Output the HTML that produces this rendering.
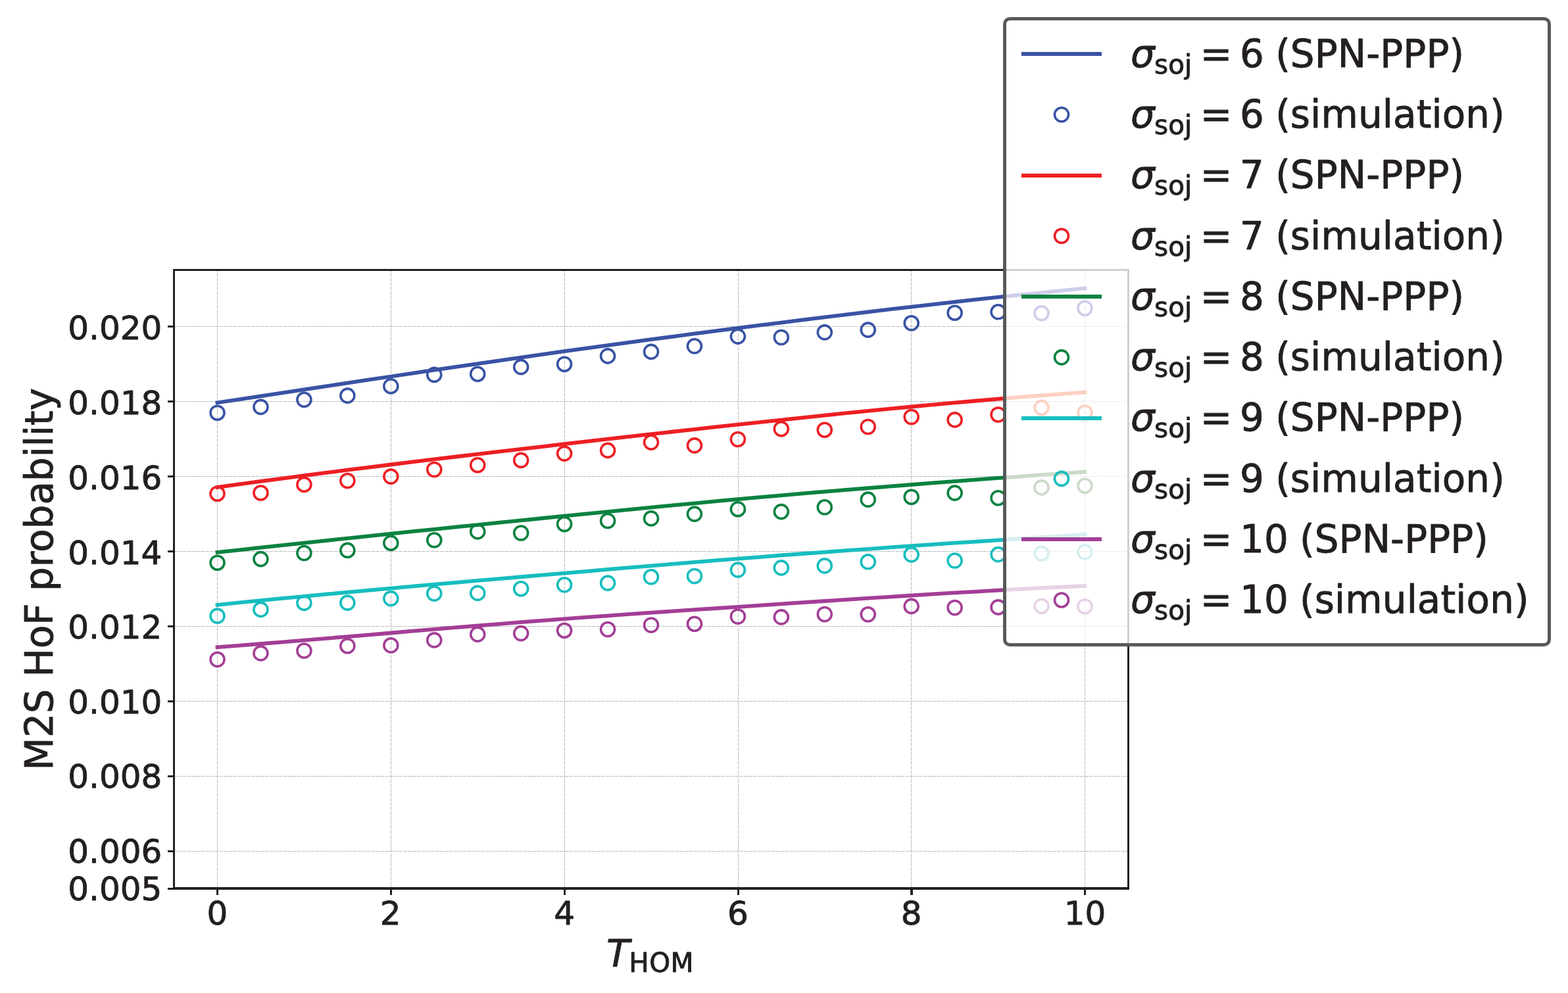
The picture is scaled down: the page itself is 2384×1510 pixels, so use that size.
<!DOCTYPE html>
<html lang="en"><head><meta charset="utf-8"><title>M2S HoF probability vs T_HOM</title>
<style>html,body{margin:0;padding:0;background:#fff}svg{display:block}</style></head>
<body>
<svg width="2384" height="1510" viewBox="0 0 2384 1510" font-family="'DejaVu Sans','Liberation Sans',sans-serif" fill="#231f20">
<style>text{stroke:#231f20;stroke-width:0.9px;stroke-linejoin:round}</style>
<rect width="2384" height="1510" fill="#fff"/>
<g stroke="#bbbdbf" stroke-width="1.0" stroke-dasharray="5.85 1.15" fill="none">
<path d="M330.5 410.5V1351" stroke-dashoffset="2.3"/>
<path d="M594.5 410.5V1351" stroke-dashoffset="2.3"/>
<path d="M858.5 410.5V1351" stroke-dashoffset="2.3"/>
<path d="M1122.5 410.5V1351" stroke-dashoffset="2.3"/>
<path d="M1385.5 410.5V1351" stroke-dashoffset="2.3"/>
<path d="M1649.5 410.5V1351" stroke-dashoffset="2.3"/>
<path d="M264.5 1351.5H1715.5" stroke-dashoffset="1.5"/>
<path d="M264.5 1294.5H1715.5" stroke-dashoffset="1.5"/>
<path d="M264.5 1180.5H1715.5" stroke-dashoffset="1.5"/>
<path d="M264.5 1066.5H1715.5" stroke-dashoffset="1.5"/>
<path d="M264.5 952.5H1715.5" stroke-dashoffset="1.5"/>
<path d="M264.5 838.5H1715.5" stroke-dashoffset="1.5"/>
<path d="M264.5 724.5H1715.5" stroke-dashoffset="1.5"/>
<path d="M264.5 610.5H1715.5" stroke-dashoffset="1.5"/>
<path d="M264.5 496.5H1715.5" stroke-dashoffset="1.5"/>
</g>
<path d="M330.5 612.25L363.48 607.27L396.45 602.29L429.43 597.3L462.4 592.32L495.38 587.35L528.35 582.38L561.33 577.43L594.3 572.5L627.28 567.59L660.25 562.71L693.23 557.86L726.2 553.04L759.17 548.26L792.15 543.53L825.12 538.84L858.1 534.2L891.08 529.62L924.05 525.08L957.02 520.6L990 516.17L1022.98 511.79L1055.95 507.45L1088.93 503.15L1121.9 498.9L1154.88 494.69L1187.85 490.52L1220.83 486.4L1253.8 482.33L1286.78 478.31L1319.75 474.34L1352.72 470.44L1385.7 466.6L1418.67 462.82L1451.65 459.12L1484.62 455.48L1517.6 451.92L1550.58 448.44L1583.55 445.04L1616.53 441.73L1649.5 438.5" fill="none" stroke="#3953a4" stroke-width="5.8" stroke-linecap="square" stroke-linejoin="round"/>
<g fill="none" stroke="#3953a4" stroke-width="3.6">
<circle cx="330.5" cy="627.7" r="10.5"/>
<circle cx="396.45" cy="618.9" r="10.5"/>
<circle cx="462.4" cy="607.8" r="10.5"/>
<circle cx="528.35" cy="601.6" r="10.5"/>
<circle cx="594.3" cy="587.2" r="10.5"/>
<circle cx="660.25" cy="569.9" r="10.5"/>
<circle cx="726.2" cy="568.7" r="10.5"/>
<circle cx="792.15" cy="558.1" r="10.5"/>
<circle cx="858.1" cy="553.7" r="10.5"/>
<circle cx="924.05" cy="541.4" r="10.5"/>
<circle cx="990" cy="534.9" r="10.5"/>
<circle cx="1055.95" cy="526.3" r="10.5"/>
<circle cx="1121.9" cy="511.6" r="10.5"/>
<circle cx="1187.85" cy="513" r="10.5"/>
<circle cx="1253.8" cy="505.4" r="10.5"/>
<circle cx="1319.75" cy="501.6" r="10.5"/>
<circle cx="1385.7" cy="491.3" r="10.5"/>
<circle cx="1451.65" cy="475.7" r="10.5"/>
<circle cx="1517.6" cy="474.3" r="10.5"/>
<circle cx="1583.55" cy="476.3" r="10.5"/>
<circle cx="1649.5" cy="468.7" r="10.5"/>
</g>
<path d="M330.5 740.9L363.48 736.37L396.45 731.91L429.43 727.52L462.4 723.2L495.38 718.94L528.35 714.74L561.33 710.59L594.3 706.5L627.28 702.46L660.25 698.46L693.23 694.5L726.2 690.58L759.17 686.69L792.15 682.84L825.12 679.01L858.1 675.2L891.08 671.41L924.05 667.65L957.02 663.91L990 660.19L1022.98 656.5L1055.95 652.83L1088.93 649.2L1121.9 645.6L1154.88 642.03L1187.85 638.51L1220.83 635.03L1253.8 631.6L1286.78 628.22L1319.75 624.91L1352.72 621.67L1385.7 618.5L1418.67 615.41L1451.65 612.41L1484.62 609.49L1517.6 606.68L1550.58 603.97L1583.55 601.36L1616.53 598.87L1649.5 596.5" fill="none" stroke="#ed1f24" stroke-width="5.8" stroke-linecap="square" stroke-linejoin="round"/>
<g fill="none" stroke="#ed1f24" stroke-width="3.6">
<circle cx="330.5" cy="750.7" r="10.5"/>
<circle cx="396.45" cy="749.5" r="10.5"/>
<circle cx="462.4" cy="736.9" r="10.5"/>
<circle cx="528.35" cy="731" r="10.5"/>
<circle cx="594.3" cy="724.6" r="10.5"/>
<circle cx="660.25" cy="714" r="10.5"/>
<circle cx="726.2" cy="707.2" r="10.5"/>
<circle cx="792.15" cy="699.9" r="10.5"/>
<circle cx="858.1" cy="689.6" r="10.5"/>
<circle cx="924.05" cy="684.9" r="10.5"/>
<circle cx="990" cy="672.6" r="10.5"/>
<circle cx="1055.95" cy="677.4" r="10.5"/>
<circle cx="1121.9" cy="668" r="10.5"/>
<circle cx="1187.85" cy="652.2" r="10.5"/>
<circle cx="1253.8" cy="653.7" r="10.5"/>
<circle cx="1319.75" cy="649" r="10.5"/>
<circle cx="1385.7" cy="634" r="10.5"/>
<circle cx="1451.65" cy="638.4" r="10.5"/>
<circle cx="1517.6" cy="630.5" r="10.5"/>
<circle cx="1583.55" cy="619.9" r="10.5"/>
<circle cx="1649.5" cy="627.5" r="10.5"/>
</g>
<path d="M330.5 839.9L363.48 836.26L396.45 832.66L429.43 829.08L462.4 825.53L495.38 822.01L528.35 818.52L561.33 815.05L594.3 811.6L627.28 808.17L660.25 804.77L693.23 801.38L726.2 798.02L759.17 794.67L792.15 791.33L825.12 788.01L858.1 784.7L891.08 781.4L924.05 778.13L957.02 774.87L990 771.65L1022.98 768.46L1055.95 765.32L1088.93 762.23L1121.9 759.2L1154.88 756.23L1187.85 753.32L1220.83 750.47L1253.8 747.68L1286.78 744.94L1319.75 742.24L1352.72 739.6L1385.7 737L1418.67 734.44L1451.65 731.92L1484.62 729.44L1517.6 726.98L1550.58 724.56L1583.55 722.17L1616.53 719.8L1649.5 717.45" fill="none" stroke="#0a8240" stroke-width="5.8" stroke-linecap="square" stroke-linejoin="round"/>
<g fill="none" stroke="#0a8240" stroke-width="3.6">
<circle cx="330.5" cy="855.7" r="10.5"/>
<circle cx="396.45" cy="850.1" r="10.5"/>
<circle cx="462.4" cy="841" r="10.5"/>
<circle cx="528.35" cy="836.9" r="10.5"/>
<circle cx="594.3" cy="825.7" r="10.5"/>
<circle cx="660.25" cy="821.3" r="10.5"/>
<circle cx="726.2" cy="808.4" r="10.5"/>
<circle cx="792.15" cy="810.5" r="10.5"/>
<circle cx="858.1" cy="797" r="10.5"/>
<circle cx="924.05" cy="792" r="10.5"/>
<circle cx="990" cy="788.4" r="10.5"/>
<circle cx="1055.95" cy="781.6" r="10.5"/>
<circle cx="1121.9" cy="774.2" r="10.5"/>
<circle cx="1187.85" cy="778.1" r="10.5"/>
<circle cx="1253.8" cy="771.3" r="10.5"/>
<circle cx="1319.75" cy="759.6" r="10.5"/>
<circle cx="1385.7" cy="755.7" r="10.5"/>
<circle cx="1451.65" cy="749.6" r="10.5"/>
<circle cx="1517.6" cy="757.2" r="10.5"/>
<circle cx="1583.55" cy="741.4" r="10.5"/>
<circle cx="1649.5" cy="738.7" r="10.5"/>
</g>
<path d="M330.5 919.8L363.48 916.46L396.45 913.18L429.43 909.96L462.4 906.79L495.38 903.68L528.35 900.61L561.33 897.59L594.3 894.6L627.28 891.65L660.25 888.73L693.23 885.83L726.2 882.96L759.17 880.1L792.15 877.26L825.12 874.43L858.1 871.6L891.08 868.78L924.05 865.96L957.02 863.16L990 860.38L1022.98 857.63L1055.95 854.91L1088.93 852.23L1121.9 849.6L1154.88 847.02L1187.85 844.48L1220.83 842L1253.8 839.56L1286.78 837.16L1319.75 834.8L1352.72 832.48L1385.7 830.2L1418.67 827.95L1451.65 825.73L1484.62 823.53L1517.6 821.37L1550.58 819.22L1583.55 817.1L1616.53 814.99L1649.5 812.9" fill="none" stroke="#17bdbe" stroke-width="5.8" stroke-linecap="square" stroke-linejoin="round"/>
<g fill="none" stroke="#17bdbe" stroke-width="3.6">
<circle cx="330.5" cy="936.6" r="10.5"/>
<circle cx="396.45" cy="926.9" r="10.5"/>
<circle cx="462.4" cy="916.9" r="10.5"/>
<circle cx="528.35" cy="916.6" r="10.5"/>
<circle cx="594.3" cy="910.1" r="10.5"/>
<circle cx="660.25" cy="902.5" r="10.5"/>
<circle cx="726.2" cy="901.9" r="10.5"/>
<circle cx="792.15" cy="895.2" r="10.5"/>
<circle cx="858.1" cy="889.3" r="10.5"/>
<circle cx="924.05" cy="886.6" r="10.5"/>
<circle cx="990" cy="877.3" r="10.5"/>
<circle cx="1055.95" cy="876" r="10.5"/>
<circle cx="1121.9" cy="866.6" r="10.5"/>
<circle cx="1187.85" cy="863.4" r="10.5"/>
<circle cx="1253.8" cy="860.4" r="10.5"/>
<circle cx="1319.75" cy="854.3" r="10.5"/>
<circle cx="1385.7" cy="843.4" r="10.5"/>
<circle cx="1451.65" cy="852.5" r="10.5"/>
<circle cx="1517.6" cy="843.1" r="10.5"/>
<circle cx="1583.55" cy="841.7" r="10.5"/>
<circle cx="1649.5" cy="839.3" r="10.5"/>
</g>
<path d="M330.5 984.2L363.48 981.62L396.45 978.99L429.43 976.3L462.4 973.59L495.38 970.84L528.35 968.07L561.33 965.29L594.3 962.5L627.28 959.72L660.25 956.95L693.23 954.21L726.2 951.49L759.17 948.81L792.15 946.18L825.12 943.61L858.1 941.1L891.08 938.66L924.05 936.28L957.02 933.96L990 931.68L1022.98 929.43L1055.95 927.21L1088.93 925L1121.9 922.8L1154.88 920.59L1187.85 918.39L1220.83 916.19L1253.8 914L1286.78 911.83L1319.75 909.69L1352.72 907.58L1385.7 905.5L1418.67 903.47L1451.65 901.48L1484.62 899.55L1517.6 897.69L1550.58 895.89L1583.55 894.16L1616.53 892.51L1649.5 890.95" fill="none" stroke="#a33e96" stroke-width="5.8" stroke-linecap="square" stroke-linejoin="round"/>
<g fill="none" stroke="#a33e96" stroke-width="3.6">
<circle cx="330.5" cy="1002.8" r="10.5"/>
<circle cx="396.45" cy="993.4" r="10.5"/>
<circle cx="462.4" cy="989.5" r="10.5"/>
<circle cx="528.35" cy="982.2" r="10.5"/>
<circle cx="594.3" cy="981.3" r="10.5"/>
<circle cx="660.25" cy="973.4" r="10.5"/>
<circle cx="726.2" cy="964.6" r="10.5"/>
<circle cx="792.15" cy="963.1" r="10.5"/>
<circle cx="858.1" cy="958.7" r="10.5"/>
<circle cx="924.05" cy="957" r="10.5"/>
<circle cx="990" cy="950.5" r="10.5"/>
<circle cx="1055.95" cy="948.7" r="10.5"/>
<circle cx="1121.9" cy="937.5" r="10.5"/>
<circle cx="1187.85" cy="938.4" r="10.5"/>
<circle cx="1253.8" cy="934" r="10.5"/>
<circle cx="1319.75" cy="934.3" r="10.5"/>
<circle cx="1385.7" cy="921.9" r="10.5"/>
<circle cx="1451.65" cy="924" r="10.5"/>
<circle cx="1517.6" cy="923.4" r="10.5"/>
<circle cx="1583.55" cy="921.7" r="10.5"/>
<circle cx="1649.5" cy="922.2" r="10.5"/>
</g>
<g fill="#231f20">
<rect x="263" y="409" width="1454" height="3"/>
<rect x="263" y="1349" width="1454" height="4"/>
<rect x="263" y="409" width="3" height="944"/>
<rect x="1714" y="409" width="3" height="944"/>
<rect x="329" y="1353" width="3" height="8"/>
<rect x="593" y="1353" width="3" height="8"/>
<rect x="857" y="1353" width="3" height="8"/>
<rect x="1121" y="1353" width="3" height="8"/>
<rect x="1384" y="1353" width="4" height="8"/>
<rect x="1648" y="1353" width="3" height="8"/>
<rect x="255" y="1350" width="8" height="3"/>
<rect x="255" y="1293" width="8" height="3"/>
<rect x="255" y="1179" width="8" height="3"/>
<rect x="255" y="1065" width="8" height="3"/>
<rect x="255" y="951" width="8" height="3"/>
<rect x="255" y="837" width="8" height="3"/>
<rect x="255" y="723" width="8" height="3"/>
<rect x="255" y="609" width="8" height="3"/>
<rect x="255" y="495" width="8" height="3"/>
</g>
<g font-size="50" text-anchor="middle">
<text transform="translate(330.5 1406.3) scale(1 1.01)">0</text>
<text transform="translate(593.6 1406.3) scale(1 1.01)">2</text>
<text transform="translate(858.1 1406.3) scale(1 1.01)">4</text>
<text transform="translate(1121.9 1406.3) scale(1 1.01)">6</text>
<text transform="translate(1385.7 1406.3) scale(1 1.01)">8</text>
<text transform="translate(1649.5 1406.3) scale(1 1.01)">10</text>
</g>
<g font-size="50" text-anchor="end">
<text transform="translate(246.3 1369.4) scale(1 1.005)">0.005</text>
<text transform="translate(246.3 1312.4) scale(1 1.005)">0.006</text>
<text transform="translate(246.3 1198.4) scale(1 1.005)">0.008</text>
<text transform="translate(246.3 1084.5) scale(1 1.005)">0.010</text>
<text transform="translate(246.3 971) scale(1 1.005)">0.012</text>
<text transform="translate(246.3 857.6) scale(1 1.005)">0.014</text>
<text transform="translate(246.3 743.7) scale(1 1.005)">0.016</text>
<text transform="translate(246.3 629.7) scale(1 1.005)">0.018</text>
<text transform="translate(246.3 516) scale(1 1.005)">0.020</text>
</g>
<text font-size="57.6"><tspan x="922" y="1469.9" font-style="oblique">T</tspan><tspan x="956.3" y="1478.2" font-size="40.53" letter-spacing="0.4">HOM</tspan></text>
<text font-size="57.9" text-anchor="middle" transform="translate(79.6 880.8) rotate(-90)">M2S HoF probability</text>
<clipPath id="lc"><rect x="1527.5" y="28.5" width="828" height="952" rx="8"/></clipPath>
<g clip-path="url(#lc)">
<rect x="1527.5" y="28.5" width="828" height="952" fill="#fff"/>
<g stroke="#ebebed" stroke-width="1.0" stroke-dasharray="5.85 1.15" fill="none">
<path d="M1649.5 410.5V1351" stroke-dashoffset="2.3"/>
<path d="M264.5 952.5H1715.5" stroke-dashoffset="1.5"/>
<path d="M264.5 838.5H1715.5" stroke-dashoffset="1.5"/>
<path d="M264.5 724.5H1715.5" stroke-dashoffset="1.5"/>
<path d="M264.5 610.5H1715.5" stroke-dashoffset="1.5"/>
<path d="M264.5 496.5H1715.5" stroke-dashoffset="1.5"/>
</g>
<path d="M1451.65 459.12L1484.62 455.48L1517.6 451.92L1550.58 448.44L1583.55 445.04L1616.53 441.73L1649.5 438.5" fill="none" stroke="#cccee8" stroke-width="5.8" stroke-linecap="square" stroke-linejoin="round"/>
<g fill="none" stroke="#cccee8" stroke-width="3.6">
<circle cx="1517.6" cy="474.3" r="10.5"/>
<circle cx="1583.55" cy="476.3" r="10.5"/>
<circle cx="1649.5" cy="468.7" r="10.5"/>
</g>
<path d="M1451.65 612.41L1484.62 609.49L1517.6 606.68L1550.58 603.97L1583.55 601.36L1616.53 598.87L1649.5 596.5" fill="none" stroke="#fcd0c0" stroke-width="5.8" stroke-linecap="square" stroke-linejoin="round"/>
<g fill="none" stroke="#fcd0c0" stroke-width="3.6">
<circle cx="1517.6" cy="630.5" r="10.5"/>
<circle cx="1583.55" cy="619.9" r="10.5"/>
<circle cx="1649.5" cy="627.5" r="10.5"/>
</g>
<path d="M1451.65 731.92L1484.62 729.44L1517.6 726.98L1550.58 724.56L1583.55 722.17L1616.53 719.8L1649.5 717.45" fill="none" stroke="#ccdaca" stroke-width="5.8" stroke-linecap="square" stroke-linejoin="round"/>
<g fill="none" stroke="#ccdaca" stroke-width="3.6">
<circle cx="1517.6" cy="757.2" r="10.5"/>
<circle cx="1583.55" cy="741.4" r="10.5"/>
<circle cx="1649.5" cy="738.7" r="10.5"/>
</g>
<path d="M1451.65 825.73L1484.62 823.53L1517.6 821.37L1550.58 819.22L1583.55 817.1L1616.53 814.99L1649.5 812.9" fill="none" stroke="#d6eef0" stroke-width="5.8" stroke-linecap="square" stroke-linejoin="round"/>
<g fill="none" stroke="#d6eef0" stroke-width="3.6">
<circle cx="1517.6" cy="843.1" r="10.5"/>
<circle cx="1583.55" cy="841.7" r="10.5"/>
<circle cx="1649.5" cy="839.3" r="10.5"/>
</g>
<path d="M1451.65 901.48L1484.62 899.55L1517.6 897.69L1550.58 895.89L1583.55 894.16L1616.53 892.51L1649.5 890.95" fill="none" stroke="#e6d2e6" stroke-width="5.8" stroke-linecap="square" stroke-linejoin="round"/>
<g fill="none" stroke="#e6d2e6" stroke-width="3.6">
<circle cx="1517.6" cy="923.4" r="10.5"/>
<circle cx="1583.55" cy="921.7" r="10.5"/>
<circle cx="1649.5" cy="922.2" r="10.5"/>
</g>
<g fill="#cfd0d2">
<rect x="263" y="409" width="1454" height="3"/>
<rect x="1714" y="409" width="3" height="944"/>
</g></g>
<rect x="1527.5" y="28.5" width="828" height="952" rx="8" fill="none" stroke="#58595b" stroke-width="5.0"/>
<rect x="1553" y="79" width="122" height="6" fill="#3953a4"/>
<text font-size="57.9"><tspan x="1718.9" y="102" font-style="oblique">σ</tspan><tspan x="1755.1" y="111.6" font-size="40.53">soj</tspan><tspan x="1824.7" y="102">=</tspan><tspan x="1885.1" y="102">6 </tspan><tspan x="1939.14" y="102" letter-spacing="0.15">(SPN-PPP)</tspan></text>
<circle cx="1614" cy="174.27" r="10.5" fill="none" stroke="#3953a4" stroke-width="3.6"/>
<text font-size="57.9"><tspan x="1718.9" y="194" font-style="oblique">σ</tspan><tspan x="1755.1" y="203.6" font-size="40.53">soj</tspan><tspan x="1824.7" y="194">=</tspan><tspan x="1885.1" y="194">6 </tspan><tspan x="1939.14" y="194" letter-spacing="0.15">(simulation)</tspan></text>
<rect x="1553" y="264" width="122" height="6" fill="#ed1f24"/>
<text font-size="57.9"><tspan x="1718.9" y="286" font-style="oblique">σ</tspan><tspan x="1755.1" y="295.6" font-size="40.53">soj</tspan><tspan x="1824.7" y="286">=</tspan><tspan x="1885.1" y="286">7 </tspan><tspan x="1939.14" y="286" letter-spacing="0.15">(SPN-PPP)</tspan></text>
<circle cx="1614" cy="358.81" r="10.5" fill="none" stroke="#ed1f24" stroke-width="3.6"/>
<text font-size="57.9"><tspan x="1718.9" y="379" font-style="oblique">σ</tspan><tspan x="1755.1" y="388.6" font-size="40.53">soj</tspan><tspan x="1824.7" y="379">=</tspan><tspan x="1885.1" y="379">7 </tspan><tspan x="1939.14" y="379" letter-spacing="0.15">(simulation)</tspan></text>
<rect x="1553" y="448" width="122" height="6" fill="#0a8240"/>
<text font-size="57.9"><tspan x="1718.9" y="471" font-style="oblique">σ</tspan><tspan x="1755.1" y="480.6" font-size="40.53">soj</tspan><tspan x="1824.7" y="471">=</tspan><tspan x="1885.1" y="471">8 </tspan><tspan x="1939.14" y="471" letter-spacing="0.15">(SPN-PPP)</tspan></text>
<circle cx="1614" cy="543.35" r="10.5" fill="none" stroke="#0a8240" stroke-width="3.6"/>
<text font-size="57.9"><tspan x="1718.9" y="563" font-style="oblique">σ</tspan><tspan x="1755.1" y="572.6" font-size="40.53">soj</tspan><tspan x="1824.7" y="563">=</tspan><tspan x="1885.1" y="563">8 </tspan><tspan x="1939.14" y="563" letter-spacing="0.15">(simulation)</tspan></text>
<rect x="1553" y="633" width="122" height="6" fill="#17bdbe"/>
<text font-size="57.9"><tspan x="1718.9" y="655" font-style="oblique">σ</tspan><tspan x="1755.1" y="664.6" font-size="40.53">soj</tspan><tspan x="1824.7" y="655">=</tspan><tspan x="1885.1" y="655">9 </tspan><tspan x="1939.14" y="655" letter-spacing="0.15">(SPN-PPP)</tspan></text>
<circle cx="1614" cy="727.89" r="10.5" fill="none" stroke="#17bdbe" stroke-width="3.6"/>
<text font-size="57.9"><tspan x="1718.9" y="748" font-style="oblique">σ</tspan><tspan x="1755.1" y="757.6" font-size="40.53">soj</tspan><tspan x="1824.7" y="748">=</tspan><tspan x="1885.1" y="748">9 </tspan><tspan x="1939.14" y="748" letter-spacing="0.15">(simulation)</tspan></text>
<rect x="1553" y="817" width="122" height="6" fill="#a33e96"/>
<text font-size="57.9"><tspan x="1718.9" y="840" font-style="oblique">σ</tspan><tspan x="1755.1" y="849.6" font-size="40.53">soj</tspan><tspan x="1824.7" y="840">=</tspan><tspan x="1885.1" y="840">10 </tspan><tspan x="1975.98" y="840" letter-spacing="0.15">(SPN-PPP)</tspan></text>
<circle cx="1614" cy="912.43" r="10.5" fill="none" stroke="#a33e96" stroke-width="3.6"/>
<text font-size="57.9"><tspan x="1718.9" y="932" font-style="oblique">σ</tspan><tspan x="1755.1" y="941.6" font-size="40.53">soj</tspan><tspan x="1824.7" y="932">=</tspan><tspan x="1885.1" y="932">10 </tspan><tspan x="1975.98" y="932" letter-spacing="0.15">(simulation)</tspan></text>
</svg>
</body></html>
